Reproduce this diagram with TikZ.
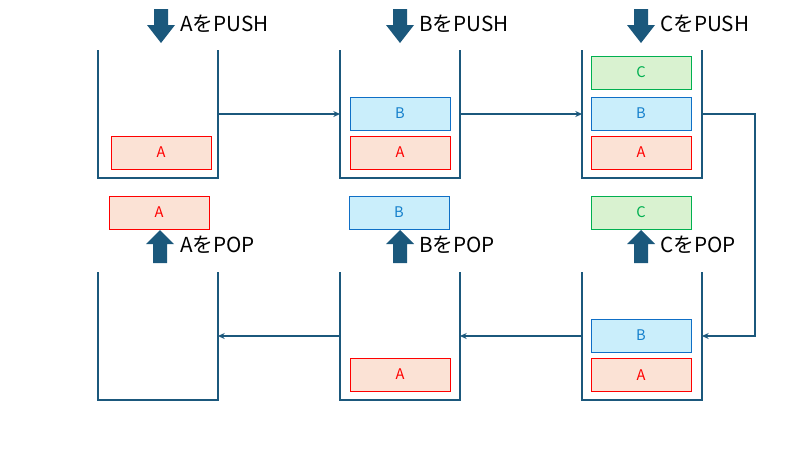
\documentclass[tikz,border=0pt]{standalone}
\usepackage{fontspec}
\setmainfont{Noto Sans CJK JP}
\usetikzlibrary{arrows.meta}
\definecolor{navy}{HTML}{1B587C}
\definecolor{afill}{HTML}{FBE2D5}
\definecolor{adraw}{HTML}{FF0000}
\definecolor{bfill}{HTML}{CAEEFB}
\definecolor{bdraw}{HTML}{0F6FC6}
\definecolor{btext}{HTML}{1580CC}
\definecolor{cfill}{HTML}{D9F2D0}
\definecolor{cdraw}{HTML}{00B050}
\tikzset{
  cont/.style={minimum width=90pt,minimum height=96pt,inner sep=0,outer sep=0},
  wall/.style={draw=navy,line width=1.8pt},
  conn/.style={draw=navy,line width=1.4pt,-{Stealth[length=5pt,width=4.5pt]}},
  item/.style={minimum width=75pt,minimum height=24.75pt,inner sep=0,outer sep=0,line width=0.7pt,font=\fontsize{11}{12}\selectfont},
  ita/.style={item,fill=afill,draw=adraw,text=adraw},
  itb/.style={item,fill=bfill,draw=bdraw,text=btext},
  itc/.style={item,fill=cfill,draw=cdraw,text=cdraw},
  lbl/.style={anchor=west,inner sep=0,font=\fontsize{15.5}{17}\selectfont},
  barrow/.style={fill=navy,draw=none}
}
\begin{document}
\begin{tikzpicture}[x=0.75pt,y=-0.75pt]
\useasboundingbox (0,0) rectangle (800,450);
% containers
\node[cont] (s1) at (158,114) {};
\node[cont] (s2) at (400,114) {};
\node[cont] (s3) at (642,114) {};
\node[cont] (s4) at (158,336) {};
\node[cont] (s5) at (400,336) {};
\node[cont] (s6) at (642,336) {};
\foreach \s in {s1,s2,s3,s4,s5,s6}
  \draw[wall,line join=miter] (\s.north west) -- (\s.south west) -- (\s.south east) -- (\s.north east);
% items in stacks
\node[ita] (a1) at (161,152.5) {A};
\node[itb] (b2) at (400,113.5) {B};
\node[ita] (a2) at (400,152.5) {A};
\node[itc] (c3) at (641,72.5) {C};
\node[itb] (b3) at (641,113.5) {B};
\node[ita] (a3) at (641,152.5) {A};
\node[itb] (b6) at (641,335.5) {B};
\node[ita] (a6) at (641,375) {A};
\node[ita] (a5) at (400,374.5) {A};
% popped items
\node[ita] (pa) at (159,212.5) {A};
\node[itb] (pb) at (399,212.5) {B};
\node[itc] (pc) at (641,212.5) {C};
% push arrows
\foreach \cx in {161,400,641}
  \fill[barrow] (\cx-7,9) -- (\cx+7,9) -- (\cx+7,25) -- (\cx+14,25) -- (\cx,43) -- (\cx-14,25) -- (\cx-7,25) -- cycle;
% pop arrows
\foreach \cx in {160,400,641}
  \fill[barrow] (\cx-7,263) -- (\cx+7,263) -- (\cx+7,244) -- (\cx+14,244) -- (\cx,230) -- (\cx-14,244) -- (\cx-7,244) -- cycle;
% labels
\node[lbl] (l1) at (180,24) {AをPUSH};
\node[lbl] (l2) at (419,24) {BをPUSH};
\node[lbl] (l3) at (660,24) {CをPUSH};
\node[lbl] (l4) at (180,245) {AをPOP};
\node[lbl] (l5) at (419,245) {BをPOP};
\node[lbl] (l6) at (660,245) {CをPOP};
% connectors
\coordinate (turn) at (755,225);
\draw[conn] (s1.east) -- (s2.west);
\draw[conn] (s2.east) -- (s3.west);
\draw[conn] (s3.east) -| (turn) |- (s6.east);
\draw[conn] (s6.west) -- (s5.east);
\draw[conn] (s5.west) -- (s4.east);
\end{tikzpicture}
\end{document}
